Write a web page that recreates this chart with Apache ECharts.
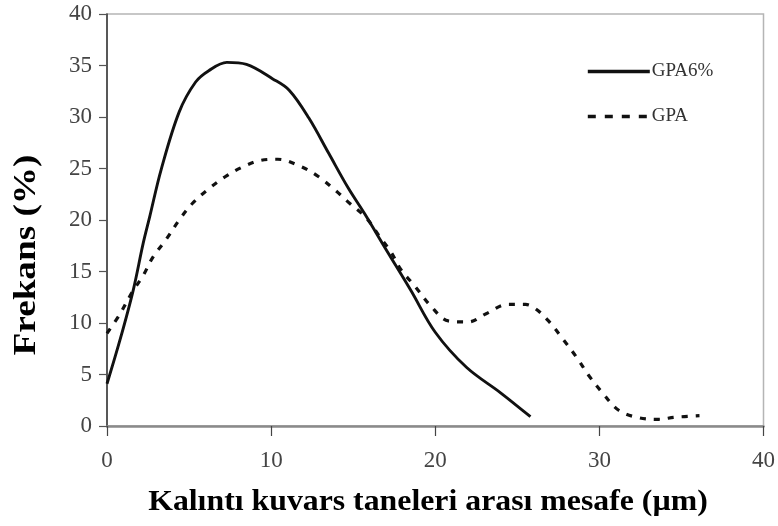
<!DOCTYPE html>
<html>
<head>
<meta charset="utf-8">
<script src="https://cdn.jsdelivr.net/npm/echarts@6/dist/echarts.min.js"></script>
<style>
  html, body { margin: 0; padding: 0; background: #fff; }
  #chart { width: 778px; height: 526px; }
</style>
</head>
<body>
<div id="chart"></div>
<script>
// Inter-grain distance (µm) vs. frequency (%)
const seriesNames = ['GPA6%', 'GPA'];

const gpa6X = [0, 0.8, 1.6, 2.2, 2.6, 3.3, 4.4, 5.4, 6.2, 7.3, 8.5, 10.1, 11.1, 12.3, 13.5, 14.7, 15.7, 16.9, 18.5, 20, 21.9, 24, 25.8];
const gpa6Y = [4.1, 8.4, 13.2, 17.7, 20.3, 24.9, 30.5, 33.4, 34.5, 35.3, 35.1, 33.7, 32.6, 29.9, 26.5, 23.1, 20.6, 17.4, 13.2, 9.1, 5.7, 3.2, 0.9];

const gpaX = [0, 0.8, 1.5, 2.2, 2.8, 3.6, 4.4, 5.2, 6.1, 7.2, 8.2, 9.4, 10.4, 11.8, 12.9, 13.9, 14.8, 15.8, 16.6, 17.3, 17.9, 18.8, 19.7, 20.8, 22.0, 23.1, 24.4, 25.5, 26.1, 26.9, 27.8, 28.6, 29.4, 30.2, 31.2, 32.4, 33.6, 34.6, 36.1];
const gpaY = [9.0, 10.9, 12.9, 14.6, 16.4, 18.1, 20.0, 21.6, 22.9, 24.2, 25.1, 25.8, 25.9, 25.2, 24.2, 22.9, 21.6, 20.2, 18.4, 16.9, 15.2, 13.5, 11.7, 10.2, 10.1, 10.9, 11.8, 11.8, 11.4, 10.2, 8.4, 6.7, 4.8, 3.2, 1.5, 0.8, 0.65, 0.85, 1.0];

const xTicks = [0, 10, 20, 30, 40];
const yTicks = [0, 5, 10, 15, 20, 25, 30, 35, 40];

const xTitle = 'Kalıntı kuvars taneleri arası mesafe (µm)';
const yTitle = 'Frekans (%)';

const pairs = (xs, ys) => xs.map((x, i) => [x, ys[i]]);

const serif = '"Liberation Serif", "DejaVu Serif", serif';
const tickFont = { fontFamily: serif, fontSize: 23, color: '#444' };

const chart = echarts.init(document.getElementById('chart'), null, { renderer: 'canvas' });

chart.setOption({
  animation: false,
  backgroundColor: '#fff',
  grid: {
    left: 107, right: 11, top: 14, bottom: 100,
    show: true, borderColor: '#b5b5b5', borderWidth: 1.5
  },
  xAxis: {
    type: 'value',
    min: xTicks[0], max: xTicks[xTicks.length - 1], interval: 10,
    axisLine: { show: true, onZero: false, lineStyle: { color: '#8a8a8a', width: 2.5 } },
    axisTick: { show: true, inside: false, length: 10, lineStyle: { color: '#444', width: 1.2 } },
    axisLabel: Object.assign({ margin: 23 }, tickFont),
    splitLine: { show: false }
  },
  yAxis: {
    type: 'value',
    min: yTicks[0], max: yTicks[yTicks.length - 1], interval: 5,
    axisLine: { show: true, onZero: false, lineStyle: { color: '#333', width: 1.5 } },
    axisTick: { show: true, inside: false, length: 8, lineStyle: { color: '#555', width: 1.2 } },
    axisLabel: Object.assign({ margin: 15 }, tickFont),
    splitLine: { show: false }
  },
  legend: {
    orient: 'vertical',
    left: 581, top: 57,
    itemWidth: 62, itemHeight: 14, itemGap: 26,
    // line-only keys: the point marker is made transparent
    itemStyle: { color: 'rgba(0,0,0,0)', borderWidth: 0, opacity: 0 },
    textStyle: { fontFamily: serif, fontSize: 19, color: '#333', padding: [0, 0, 0, -3] },
    data: [
      { name: seriesNames[0], lineStyle: { color: '#111', width: 3.6, type: 'solid' } },
      { name: seriesNames[1], lineStyle: { color: '#111', width: 3.6, type: [8, 9] } }
    ]
  },
  series: [
    {
      name: seriesNames[0], type: 'line', smooth: 0.35, symbol: 'none',
      data: pairs(gpa6X, gpa6Y),
      lineStyle: { color: '#111', width: 2.9 }, itemStyle: { color: '#111' }
    },
    {
      name: seriesNames[1], type: 'line', smooth: 0.35, symbol: 'none',
      data: pairs(gpaX, gpaY),
      lineStyle: { color: '#111', width: 3.2, type: [6, 8] }, itemStyle: { color: '#111' }
    }
  ],
  graphic: [
    {
      type: 'text', x: 428, y: 502, scaleX: 1.06,
      style: { text: xTitle, fontFamily: serif, fontWeight: 'bold', fontSize: 30, fill: '#000', align: 'center', verticalAlign: 'middle' }
    },
    {
      type: 'text', x: 27, y: 255, rotation: Math.PI / 2, scaleX: 1.2,
      style: { text: yTitle, fontFamily: serif, fontWeight: 'bold', fontSize: 31, fill: '#000', align: 'center', verticalAlign: 'middle' }
    }
  ]
});
</script>
</body>
</html>
